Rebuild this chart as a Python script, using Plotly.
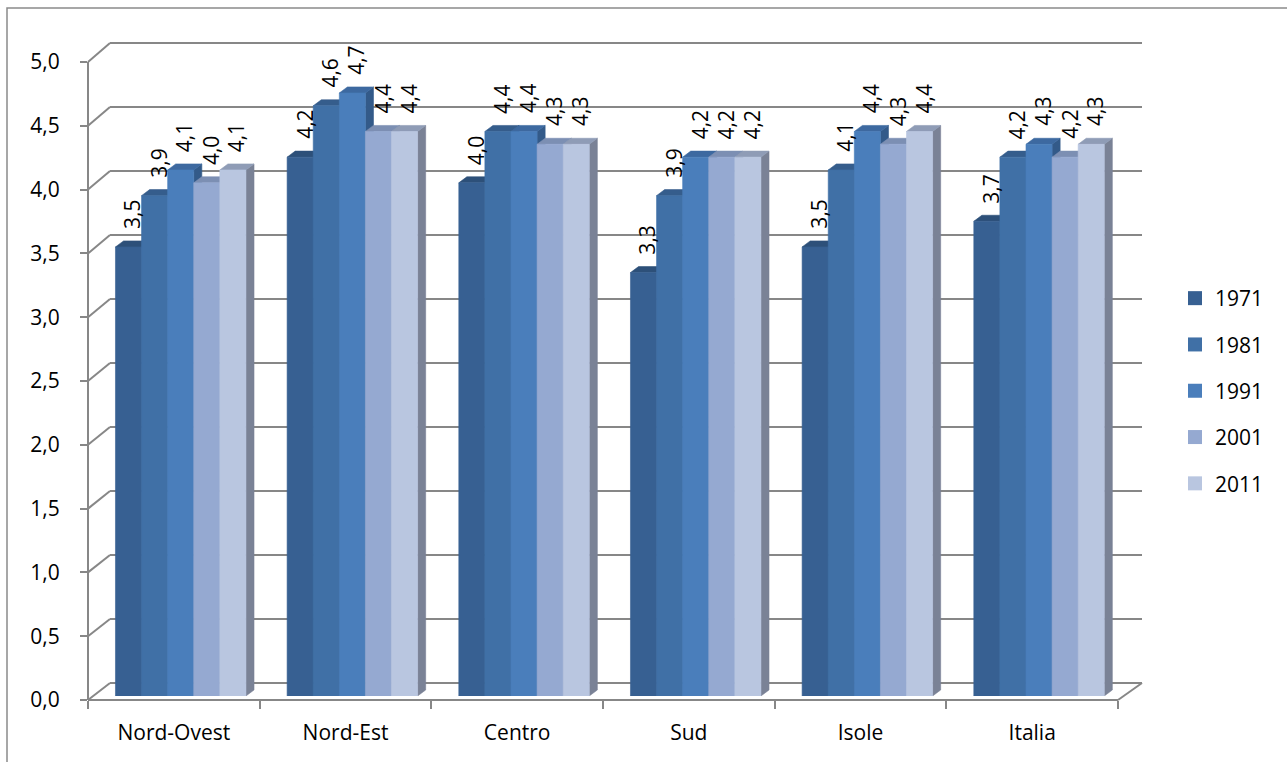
import plotly.graph_objects as go

# --- data -------------------------------------------------------------
regioni = ["Nord-Ovest", "Nord-Est", "Centro", "Sud", "Isole", "Italia"]
anni = ["1971", "1981", "1991", "2001", "2011"]
v1971 = [3.5, 4.2, 4.0, 3.3, 3.5, 3.7]
v1981 = [3.9, 4.6, 4.4, 3.9, 4.1, 4.2]
v1991 = [4.1, 4.7, 4.4, 4.2, 4.4, 4.3]
v2001 = [4.0, 4.4, 4.3, 4.2, 4.3, 4.2]
v2011 = [4.1, 4.4, 4.3, 4.2, 4.4, 4.3]
serie = [v1971, v1981, v1991, v2001, v2011]
tick_vals = [0.0, 0.5, 1.0, 1.5, 2.0, 2.5, 3.0, 3.5, 4.0, 4.5, 5.0]

# --- styling -----------------------------------------------------------
W, H = 1287, 762
FONT = "Open Sans"
FS = 21
GRID = "#878787"
front_col = ["#376092", "#4070A6", "#4A7EBB", "#95A9D1", "#B9C6E0"]
top_col = ["#2D5079", "#355D8C", "#3D69A0", "#7C8FB3", "#8F9CB6"]
side_col = ["#27466B", "#2E527D", "#335A89", "#6B7A99", "#7A8296"]

OFF = 0.16    # gap between category start and first bar (category units)
BW = 0.152    # bar width (category units)
DX = 0.047    # depth offset, horizontal (category units)
DY = 0.047    # depth offset, vertical (value units)


def px(x):
    return x / W


def py(y):
    return 1 - y / H


# pixel geometry of the pseudo-3D walls
FRONT_X, BACK_X0, BACK_X1, FRONT_X1 = 88, 110, 1142, 1118


def front_y(v):
    return 700 - 127.6 * v


def back_y(v):
    return 683 - 128.0 * v


fig = go.Figure()

# bars: painted left to right so each bar hides the side of its neighbour
for j, vals in enumerate(serie):
    side_x, side_y, top_x, top_y, fr_x, fr_y = [], [], [], [], [], []
    for i, h in enumerate(vals):
        x0 = i + OFF + j * BW
        x1 = x0 + BW
        side_x += [x1, x1 + DX, x1 + DX, x1, x1, None]
        side_y += [0, DY, h + DY, h, 0, None]
        top_x += [x0, x1, x1 + DX, x0 + DX, x0, None]
        top_y += [h, h, h + DY, h + DY, h, None]
        fr_x += [x0, x1, x1, x0, x0, None]
        fr_y += [0, 0, h, h, 0, None]
    for xs, ys, c in ((side_x, side_y, side_col[j]),
                      (top_x, top_y, top_col[j]),
                      (fr_x, fr_y, front_col[j])):
        fig.add_trace(go.Scatter(
            x=xs, y=ys, mode="lines", fill="toself", fillcolor=c,
            line=dict(color=c, width=0.6), hoverinfo="skip",
            showlegend=False, xaxis="x", yaxis="y"))

# legend entries
for j, anno in enumerate(anni):
    fig.add_trace(go.Scatter(
        x=[None], y=[None], mode="markers", name=anno,
        marker=dict(symbol="square", size=14, color=front_col[j]),
        legendgroup=anno, showlegend=True, xaxis="x", yaxis="y"))

# value labels above each bar
annotations = []
for j, vals in enumerate(serie):
    for i, h in enumerate(vals):
        x0 = i + OFF + j * BW
        annotations.append(dict(
            x=x0 + BW / 2 + DX / 2, y=h + DY, xref="x", yref="y",
            text=f"{h:.1f}".replace(".", ","), textangle=-90,
            showarrow=False, xanchor="center", yanchor="bottom", yshift=10,
            font=dict(family=FONT, size=FS, color="black")))

# walls: back gridlines, side-wall diagonals, floor edge, outer frame
shapes = []
for v in tick_vals:
    shapes.append(dict(type="line", xref="paper", yref="paper", layer="below",
                       x0=px(BACK_X0), x1=px(BACK_X1),
                       y0=py(back_y(v)), y1=py(back_y(v)),
                       line=dict(color=GRID, width=2)))
    shapes.append(dict(type="line", xref="paper", yref="paper", layer="below",
                       x0=px(FRONT_X), x1=px(BACK_X0),
                       y0=py(front_y(v)), y1=py(back_y(v)),
                       line=dict(color=GRID, width=2)))
shapes.append(dict(type="line", xref="paper", yref="paper", layer="below",
                   x0=px(FRONT_X1), x1=px(BACK_X1),
                   y0=py(front_y(0)), y1=py(back_y(0)),
                   line=dict(color=GRID, width=2)))
shapes.append(dict(type="rect", xref="paper", yref="paper", layer="below",
                   x0=px(7), x1=px(1300), y0=py(8), y1=py(800),
                   line=dict(color="#8a8a8a", width=1.5)))

fig.update_layout(
    template="none",
    width=W, height=H,
    margin=dict(l=0, r=0, t=0, b=0, autoexpand=False),
    paper_bgcolor="white", plot_bgcolor="rgba(0,0,0,0)",
    separators=",.",
    font=dict(family=FONT, size=FS, color="black"),
    showlegend=True,
    legend=dict(x=px(1175), y=py(278), xanchor="left", yanchor="top",
                bgcolor="rgba(0,0,0,0)", tracegroupgap=16,
                font=dict(family=FONT, size=FS, color="black")),
    xaxis=dict(domain=[px(FRONT_X), px(FRONT_X1)], range=[0, 6],
               anchor="free", position=py(front_y(0)), automargin=False,
               showline=True, linecolor=GRID, linewidth=2,
               showgrid=False, zeroline=False,
               tickmode="array", tickvals=[i + 0.5 for i in range(6)],
               ticktext=regioni, ticks="", ticklabelstandoff=14,
               minor=dict(tick0=0, dtick=1, ticks="outside", ticklen=8,
                          tickcolor=GRID, tickwidth=2, showgrid=False),
               fixedrange=True),
    yaxis=dict(domain=[py(696), py(696 - 128.3 * 5)], range=[0, 5],
               visible=False, automargin=False, fixedrange=True),
    xaxis2=dict(domain=[px(FRONT_X), px(FRONT_X1)], range=[0, 6],
                anchor="y2", visible=False, automargin=False,
                fixedrange=True),
    yaxis2=dict(domain=[py(front_y(0)), py(front_y(5))], range=[0, 5],
                anchor="free", position=px(FRONT_X), automargin=False,
                showline=True, linecolor=GRID, linewidth=2,
                showgrid=False, zeroline=False,
                tickmode="array", tickvals=tick_vals, tickformat=".1f",
                ticks="outside", ticklen=7, tickcolor=GRID, tickwidth=2,
                ticklabelstandoff=16, fixedrange=True),
    annotations=annotations,
    shapes=shapes,
)

# anchor trace so the front value axis is drawn
fig.add_trace(go.Scatter(x=[None], y=[None], xaxis="x2", yaxis="y2",
                         showlegend=False, hoverinfo="skip"))

fig.write_html("out.html")
